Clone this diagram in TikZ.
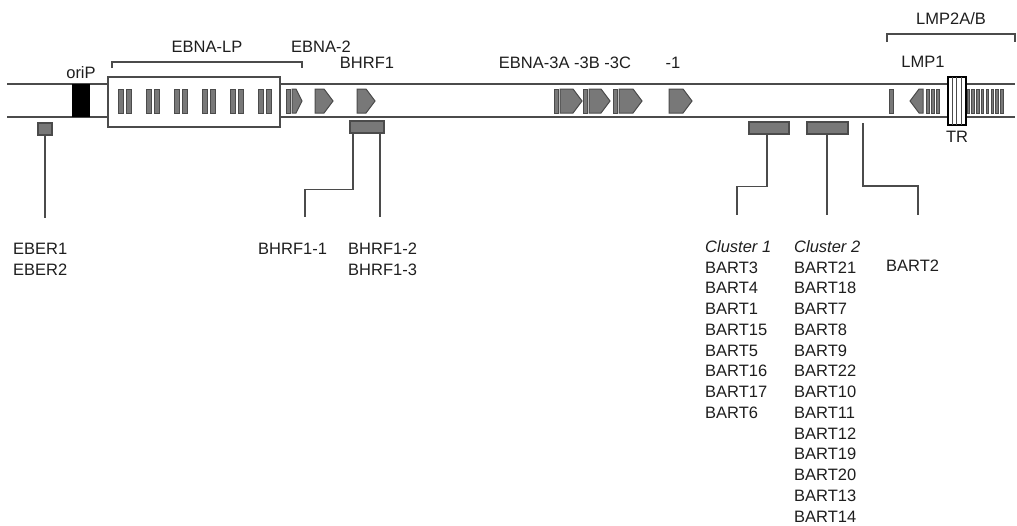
\documentclass[tikz,border=0pt]{standalone}
\usepackage{fontspec}
\setmainfont{Liberation Sans}
\usetikzlibrary{positioning}
\definecolor{genegray}{RGB}{120,120,120}
\definecolor{edgegray}{RGB}{75,75,75}
\definecolor{textgray}{RGB}{30,30,30}
\tikzstyle{genome} = [line width=1.8pt, draw=edgegray]
\tikzstyle{gene} = [fill=genegray, draw=edgegray, line width=1pt]
\tikzstyle{rnabox} = [rectangle, fill=genegray, draw=edgegray, line width=1.2pt, inner sep=0pt, minimum height=12pt]
\tikzstyle{link} = [line width=1.5pt, draw=edgegray]
\tikzstyle{bracket} = [line width=1.5pt, draw=edgegray]
\tikzstyle{label} = [inner sep=0pt, text=textgray, font=\fontsize{16.5}{20.75}\selectfont]
\tikzstyle{list} = [label, align=left, anchor=north west]
% exon shapes, x from #1 to #2 (pixel units)
\newcommand{\exonbar}[2]{\draw[gene] (#1,89) rectangle (#2,113);}
\newcommand{\exonright}[3][9]{\draw[gene] (#2,89) -- (#3-#1,89) -- (#3,101) -- (#3-#1,113) -- (#2,113) -- cycle;}
\newcommand{\exonleft}[3][9]{\draw[gene] (#2,101) -- (#2+#1,89) -- (#3,89) -- (#3,113) -- (#2+#1,113) -- cycle;}

\begin{document}
\begin{tikzpicture}[x=1pt, y=-1pt]
\useasboundingbox (0,0) rectangle (1017,525);
% genome
\draw[genome] (7,84) -- (1015,84);
\draw[genome] (7,117) -- (1015,117);
\node (orip) [rectangle, fill=black, inner sep=0pt, minimum width=18pt, minimum height=33pt] at (81,100.5) {};
\node (lpbox) [rectangle, draw=edgegray, fill=white, line width=1.4pt, inner sep=0pt, minimum width=172pt, minimum height=50pt] at (194,102) {};
\foreach \x in {118,146,174,202,230,258} {
  \exonbar{\x}{\x+5}
  \exonbar{\x+8}{\x+13}
}
% EBNA-2, BHRF1
\exonbar{286}{290}
\exonright[6]{292}{302}
\exonright{315}{333}
\exonright{357}{375}
% EBNA-3A -3B -3C, -1
\exonbar{554}{558}
\exonright{560}{582}
\exonbar{583}{587}
\exonright{589}{610}
\exonbar{613}{617}
\exonright{619}{642}
\exonright{669}{692}
% LMP2A/B, LMP1
\exonbar{889}{893}
\exonleft{910}{923}
\foreach \x in {926,931,936} {
  \exonbar{\x}{\x+3}
}
\foreach \i in {0,...,7} {
  \exonbar{967+\i*4.8}{969.5+\i*4.8}
}
\node (trbox) [rectangle, draw=black, fill=white, line width=1.2pt, inner sep=0pt, minimum width=18pt, minimum height=48pt] at (957,101) {};
\foreach \x in {952,956,961} {
  \draw[edgegray, line width=0.8pt] (\x,77) -- (\x,125);
}
% brackets
\draw[bracket] (112,68) -- (112,62) -- (302,62) -- (302,68);
\draw[bracket] (887,42) -- (887,34) -- (1015,34) -- (1015,42);
% labels above
\node (oripl) [label, anchor=base] at (81,78) {oriP};
\node (ebnalp) [label, anchor=base] at (207,52) {EBNA-LP};
\node (ebna2) [label, anchor=base] at (321,52) {EBNA-2};
\node (bhrf1) [label, anchor=base] at (367,68) {BHRF1};
\node (ebna3) [label, anchor=base] at (565,68) {EBNA-3A -3B -3C};
\node (ebna1) [label, anchor=base] at (673,68) {-1};
\node (lmp2) [label, anchor=base] at (951,24) {LMP2A/B};
\node (lmp1) [label, anchor=base] at (923,67) {LMP1};
\node (tr) [label, anchor=base] at (957,142) {TR};
% miRNA loci
\node (eber) [rnabox, minimum width=14pt] at (45,129) {};
\node (bhrfbox) [rnabox, minimum width=34pt] at (367,127) {};
\node (clusterbox1) [rnabox, minimum width=40pt] at (769,128) {};
\node (clusterbox2) [rnabox, minimum width=41pt] at (827.5,128) {};
\coordinate (bartstart) at (863,123);
% connectors
\coordinate (eberend) at (45,218);
\coordinate (bhrfaend) at (305,217);
\coordinate (bhrfbend) at (380,217);
\coordinate (clusteraend) at (737,215);
\coordinate (clusterbend) at (827,215);
\coordinate (bartend) at (918,215);
\draw[link] (eber.south) -- (eberend);
\draw[link] ([xshift=-14pt]bhrfbox.south) -- ++(0,56) -| (bhrfaend);
\draw[link] ([xshift=13pt]bhrfbox.south) -- (bhrfbend);
\draw[link] ([xshift=-2pt]clusterbox1.south) -- ++(0,52) -| (clusteraend);
\draw[link] (clusterbox2.south -| clusterbend) -- (clusterbend);
\draw[link] (bartstart) -- ++(0,63) -| (bartend);
% labels below
\node (eberl) [list] at (13,243.2) {EBER1\\EBER2};
\node (bhrfl1) [list] at (258,243.2) {BHRF1-1};
\node (bhrfl2) [list] at (348,243.2) {BHRF1-2\\BHRF1-3};
\node (cluster1) [list] at (705,240.2) {\textit{Cluster 1}\\BART3\\BART4\\BART1\\BART15\\BART5\\BART16\\BART17\\BART6};
\node (cluster2) [list] at (794,240.2) {\textit{Cluster 2}\\BART21\\BART18\\BART7\\BART8\\BART9\\BART22\\BART10\\BART11\\BART12\\BART19\\BART20\\BART13\\BART14};
\node (bart2) [list] at (886,260.2) {BART2};
\end{tikzpicture}
\end{document}
